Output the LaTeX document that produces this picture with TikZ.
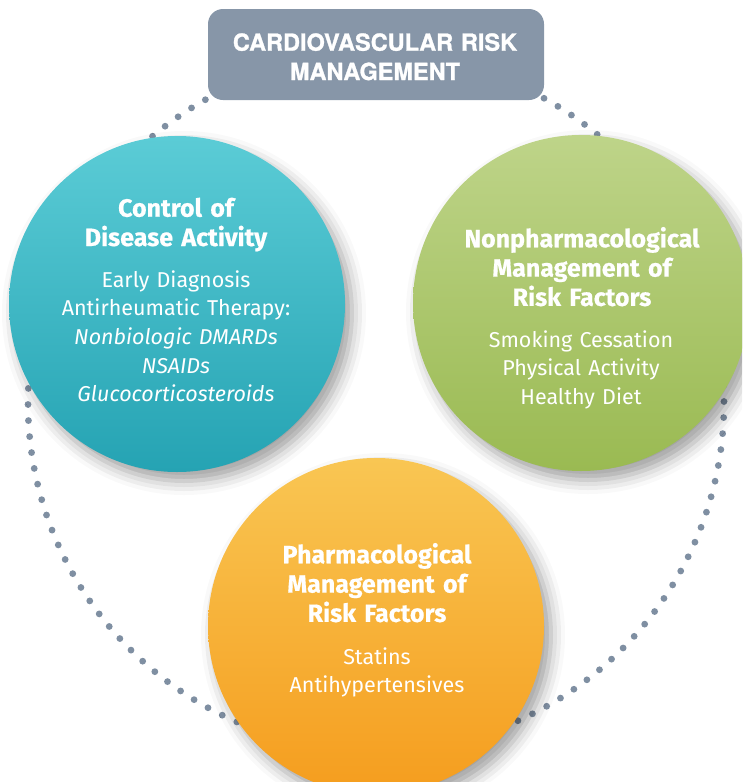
\documentclass[tikz,border=0pt]{standalone}
\usepackage{fontspec}
\setmainfont{Fira Sans}[BoldFeatures={FakeBold=0.6}]
\newfontfamily\titlefamily{texgyreheros-bold.otf}[FakeBold=1.2]
\usetikzlibrary{shadows.blur}

\definecolor{boxgray}{HTML}{8796A8}
\definecolor{dotgray}{HTML}{7F8FA2}
\definecolor{tealtop}{HTML}{5BCCD6}
\definecolor{tealbot}{HTML}{25A3B3}
\definecolor{greentop}{HTML}{BED489}
\definecolor{greenbot}{HTML}{9ABA52}
\definecolor{orangetop}{HTML}{F9C653}
\definecolor{orangebot}{HTML}{F59D1E}

\newcommand\headfont{\fontsize{25}{29.3}\selectfont\bfseries}
\newcommand\bodyfont{\fontsize{21.5}{28.6}\selectfont}
\newcommand\titlefont{\titlefamily\fontsize{23.5}{29.3}\selectfont}

\begin{document}
\begin{tikzpicture}[x=1pt,y=-1pt,
  bubble/.style={circle, minimum size=336pt, inner sep=0pt, draw=none,
    blur shadow={shadow xshift=7pt, shadow yshift=-9pt,
      shadow blur radius=14pt, shadow opacity=38}},
  headtext/.style={text=white, font=\headfont, text width=330pt,
    align=center, anchor=base, inner sep=0pt},
  bodytext/.style={text=white, font=\bodyfont, text width=330pt,
    align=center, anchor=base, inner sep=0pt},
  titlebox/.style={fill=boxgray, rounded corners=15pt, minimum width=336pt,
    minimum height=91pt, inner sep=0pt, draw=none},
  titletext/.style={text=white, font=\titlefont, text width=330pt,
    align=center, anchor=base, inner sep=0pt},
  ring dot/.style={fill=dotgray}]

\useasboundingbox (0,0) rectangle (742,782);
\clip (0,0) rectangle (742,782);

% dotted ring linking the three areas (136 dots)
\coordinate (ring) at (376,403);
\foreach \k in {0,...,135}
  \fill[ring dot] (ring) ++({2.4+\k*2.64706}:348) circle (3.4pt);

% heading box
\node[titlebox] (title) at (376,54.5) {};
\node[titletext] (titlelabel) at (375,50.7)
  {CARDIOVASCULAR RISK\\MANAGEMENT};

% the three circles
\node[bubble, top color=tealtop, bottom color=tealbot] (ctrl) at (177,304) {};
\node[bubble, top color=greentop, bottom color=greenbot] (nonpharm) at (581,303) {};
\node[bubble, top color=orangetop, bottom color=orangebot] (pharm) at (376,626) {};

% circle texts
\node[headtext] (ctrlhead) at (176,216.7) {Control of\\Disease Activity};
\node[bodytext] (ctrlbody) at (176,287.3)
  {Early Diagnosis\\Antirheumatic Therapy:\\\textit{Nonbiologic DMARDs}\\
   \textit{NSAIDs}\\\textit{Glucocorticosteroids}};

\node[headtext] (nonpharmhead) at (582,247.3)
  {Nonpharmacological\\Management of\\Risk Factors};
\node[bodytext] (nonpharmbody) at (581,347.3)
  {Smoking Cessation\\Physical Activity\\Healthy Diet};

\node[headtext] (pharmhead) at (377,563.3)
  {Pharmacological\\Management of\\Risk Factors};
\node[bodytext] (pharmbody) at (377,664)
  {Statins\\Antihypertensives};
\end{tikzpicture}
\end{document}
